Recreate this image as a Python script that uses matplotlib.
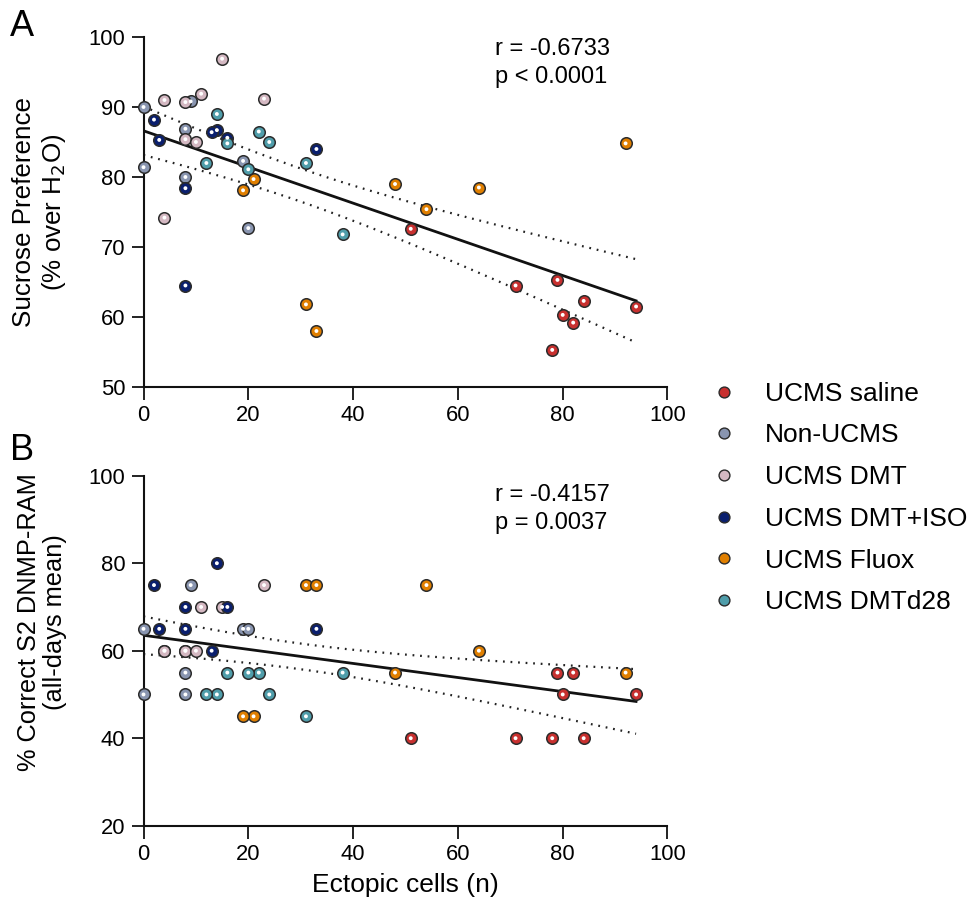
import numpy as np
import matplotlib
matplotlib.use("Agg")
import matplotlib.pyplot as plt
from matplotlib.lines import Line2D

plt.rcParams['font.family'] = ['Liberation Sans', 'DejaVu Sans']

# ---------------- data ----------------
groups = ["UCMS saline", "Non-UCMS", "UCMS DMT", "UCMS DMT+ISO", "UCMS Fluox", "UCMS DMTd28"]
colors = ["#c8302f", "#8995b0", "#d4b8c2", "#0a1f6e", "#e07f00", "#4f9daa"]

saline_x = [51, 71, 79, 78, 80, 82, 84, 94]
saline_sp = [72.6, 64.5, 65.3, 55.3, 60.3, 59.2, 62.3, 61.5]
saline_ram = [40, 40, 55, 40, 50, 55, 40, 50]

nonucms_x = [0, 0, 9, 8, 8, 19, 20]
nonucms_sp = [90.0, 81.4, 90.8, 86.9, 80.0, 82.3, 72.7]
nonucms_ram = [65, 50, 75, 55, 50, 65, 65]

dmt_x = [4, 8, 11, 23, 8, 10, 4, 15]
dmt_sp = [91.0, 90.7, 91.9, 91.2, 85.4, 85.0, 74.2, 96.9]
dmt_ram = [60, 60, 70, 75, 60, 60, 60, 70]

dmtiso_x = [2, 3, 14, 13, 16, 8, 8, 33]
dmtiso_sp = [88.2, 85.3, 86.7, 86.4, 85.6, 78.4, 64.5, 84.0]
dmtiso_ram = [75, 65, 80, 60, 70, 70, 65, 65]

fluox_x = [48, 64, 54, 92, 31, 33, 21, 19]
fluox_sp = [79.0, 78.5, 75.4, 84.8, 61.8, 58.0, 79.7, 78.1]
fluox_ram = [55, 60, 75, 55, 75, 75, 45, 45]

dmtd28_x = [14, 22, 24, 16, 12, 20, 31, 38]
dmtd28_sp = [89.0, 86.5, 85.0, 84.8, 82.0, 81.1, 82.0, 71.8]
dmtd28_ram = [50, 55, 50, 55, 50, 55, 45, 55]

xs = [saline_x, nonucms_x, dmt_x, dmtiso_x, fluox_x, dmtd28_x]
sp = [saline_sp, nonucms_sp, dmt_sp, dmtiso_sp, fluox_sp, dmtd28_sp]
ram = [saline_ram, nonucms_ram, dmt_ram, dmtiso_ram, fluox_ram, dmtd28_ram]

statsA = ["r = -0.6733", "p < 0.0001"]
statsB = ["r = -0.4157", "p = 0.0037"]
T975 = 2.0141  # t quantile, df = 45

# ---------------- figure ----------------
W, H = 968, 910
fig = plt.figure(figsize=(W / 100, H / 100), dpi=100)

def fx(px):
    return px / W

def fy(py):
    return 1 - py / H

left, right = 143.5, 667.5
axA = fig.add_axes([fx(left), fy(387), (right - left) / W, 350 / H])
axB = fig.add_axes([fx(left), fy(825.7), (right - left) / W, 350 / H])


def style(ax, ylim, yticks):
    ax.set_xlim(0, 100)
    ax.set_ylim(*ylim)
    ax.set_xticks([0, 20, 40, 60, 80, 100])
    ax.set_yticks(yticks)
    for s in ["top", "right"]:
        ax.spines[s].set_visible(False)
    for s in ["left", "bottom"]:
        ax.spines[s].set_linewidth(1.5)
        ax.spines[s].set_color("#111111")
    ax.tick_params(direction="out", length=9, width=1.3, labelsize=15.8,
                   color="#111111", pad=4)


def draw(ax, yvals):
    allx, ally = [], []
    for gx, gy, c in zip(xs, yvals, colors):
        ax.scatter(gx, gy, s=8.3 ** 2, color=c, edgecolors="#2b2b2b",
                   linewidths=1.1, zorder=3, clip_on=False)
        ax.scatter(gx, gy, s=2.8 ** 2, color="white", edgecolors="none",
                   zorder=4, clip_on=False)
        allx += list(gx)
        ally += list(gy)
    x = np.array(allx, float)
    y = np.array(ally, float)
    n = len(x)
    slope, inter = np.polyfit(x, y, 1)
    xg = np.linspace(x.min(), x.max(), 200)
    yg = inter + slope * xg
    resid = y - (inter + slope * x)
    s = np.sqrt(np.sum(resid ** 2) / (n - 2))
    sxx = np.sum((x - x.mean()) ** 2)
    hw = T975 * s * np.sqrt(1 / n + (xg - x.mean()) ** 2 / sxx)
    ax.plot(xg, yg, color="#111111", lw=2.0, zorder=2)
    ax.plot(xg, yg + hw, color="#222222", lw=1.6, ls=(0, (0.8, 2.6)), zorder=2)
    ax.plot(xg, yg - hw, color="#222222", lw=1.6, ls=(0, (0.8, 2.6)), zorder=2)


style(axA, (50, 100), [50, 60, 70, 80, 90, 100])
style(axB, (20, 100), [20, 40, 60, 80, 100])
draw(axA, sp)
draw(axB, ram)

# stats text
fig.text(fx(495), fy(49), statsA[0], fontsize=17, va="center", ha="left")
fig.text(fx(495), fy(77), statsA[1], fontsize=17, va="center", ha="left")
fig.text(fx(495), fy(495), statsB[0], fontsize=17, va="center", ha="left")
fig.text(fx(495), fy(523), statsB[1], fontsize=17, va="center", ha="left")

# panel letters
fig.text(fx(22), fy(27), "A", fontsize=26, va="center", ha="center")
fig.text(fx(22), fy(451), "B", fontsize=26, va="center", ha="center")

# y labels
fig.text(fx(40), fy(212), "Sucrose Preference\n(% over H$_2$O)", fontsize=18.7,
         rotation=90, va="center", ha="center", multialignment="center",
         linespacing=1.15)
fig.text(fx(42), fy(622), "% Correct S2 DNMP-RAM\n(all-days mean)", fontsize=18.3,
         rotation=90, va="center", ha="center", multialignment="center",
         linespacing=1.15)

# x label
axB.set_xlabel("Ectopic cells (n)", fontsize=19, labelpad=6)

# legend
handles = [Line2D([], [], ls="none", marker="o", markersize=7.8,
                  markerfacecolor=c, markeredgecolor="#2b2b2b",
                  markeredgewidth=1.0) for c in colors]
fig.legend(handles, groups, loc="center left",
           bbox_to_anchor=(fx(711), fy(498)), frameon=False, fontsize=19,
           handlelength=1.0, handletextpad=1.05, labelspacing=0.67,
           borderpad=0, borderaxespad=0)

fig.savefig("out.png", dpi=100)
